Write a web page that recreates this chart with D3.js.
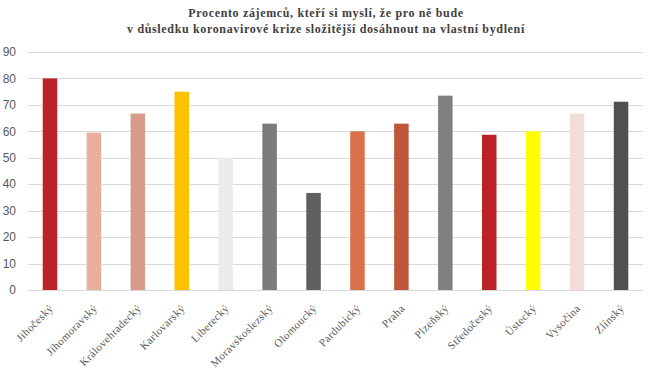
<!DOCTYPE html>
<html>
<head>
<meta charset="utf-8">
<script src="https://cdn.jsdelivr.net/npm/d3@7"></script>
<style>
  body { margin: 0; background: #fff; }
</style>
</head>
<body>
<div id="container"></div>
<script>
const regions = ["Jihočeský", "Jihomoravský", "Královehradecký", "Karlovarský", "Liberecký",
  "Moravskoslezský", "Olomoucký", "Pardubický", "Praha", "Plzeňský", "Středočeský",
  "Ústecký", "Vysočina", "Zlínský"];
const values = [80, 59.5, 66.7, 75, 50, 62.9, 36.7, 60, 62.9, 73.5, 58.7, 60, 66.7, 71.2];
const colors = ["#be2229", "#e8b09c", "#d99a8a", "#ffc000", "#ebebeb", "#7b7b7b", "#5f5f61",
  "#d9714d", "#c0553a", "#7f7f7f", "#be2229", "#ffff00", "#f2ddd7", "#505052"];
const yTicks = [0, 10, 20, 30, 40, 50, 60, 70, 80, 90];
const titleLines = ["Procento zájemců, kteří si myslí, že pro ně bude",
  "v důsledku koronavirové krize složitější dosáhnout na vlastní bydlení"];

const width = 651, height = 373;
const margin = {top: 52, right: 8, bottom: 83, left: 28};

const svg = d3.select("#container").append("svg")
  .attr("width", width)
  .attr("height", height);

const x = d3.scaleBand()
  .domain(regions)
  .range([margin.left, width - margin.right])
  .paddingInner(0.67)
  .paddingOuter(0.335);

const y = d3.scaleLinear()
  .domain([0, 90])
  .range([height - margin.bottom, margin.top]);

// gridlines
svg.append("g")
  .selectAll("line")
  .data(yTicks)
  .join("line")
  .attr("x1", margin.left)
  .attr("x2", width - margin.right)
  .attr("y1", d => Math.round(y(d)) + 0.5)
  .attr("y2", d => Math.round(y(d)) + 0.5)
  .attr("stroke", "#d9d9d9")
  .attr("stroke-width", 1);

// y labels
svg.append("g")
  .selectAll("text")
  .data(yTicks)
  .join("text")
  .attr("x", 16)
  .attr("y", d => y(d))
  .attr("dy", "0.35em")
  .attr("text-anchor", "end")
  .attr("font-family", "'Liberation Sans Narrow', 'Liberation Sans', sans-serif")
  .attr("font-size", 12)
  .attr("fill", "#595959")
  .text(d => d);

// bars
svg.append("g")
  .selectAll("rect")
  .data(regions)
  .join("rect")
  .attr("x", d => x(d))
  .attr("width", x.bandwidth())
  .attr("y", (d, i) => y(values[i]))
  .attr("height", (d, i) => y(0) - y(values[i]))
  .attr("fill", (d, i) => colors[i]);

// x labels
svg.append("g")
  .selectAll("text")
  .data(regions)
  .join("text")
  .attr("transform", d => `translate(${x(d) + x.bandwidth() / 2 + 4},${y(0) + 19}) rotate(-45)`)
  .attr("text-anchor", "end")
  .attr("font-family", "'Liberation Serif', 'Times New Roman', serif")
  .attr("font-size", 11)
  .attr("letter-spacing", 0.4)
  .attr("fill", "#595959")
  .text(d => d);

// title
svg.append("g")
  .selectAll("text")
  .data(titleLines)
  .join("text")
  .attr("x", 326)
  .attr("y", (d, i) => 17 + i * 16)
  .attr("text-anchor", "middle")
  .attr("font-family", "'Liberation Serif', 'Times New Roman', serif")
  .attr("font-weight", "bold")
  .attr("font-size", 12)
  .attr("letter-spacing", 0.65)
  .attr("fill", "#404040")
  .text(d => d);
</script>
</body>
</html>
